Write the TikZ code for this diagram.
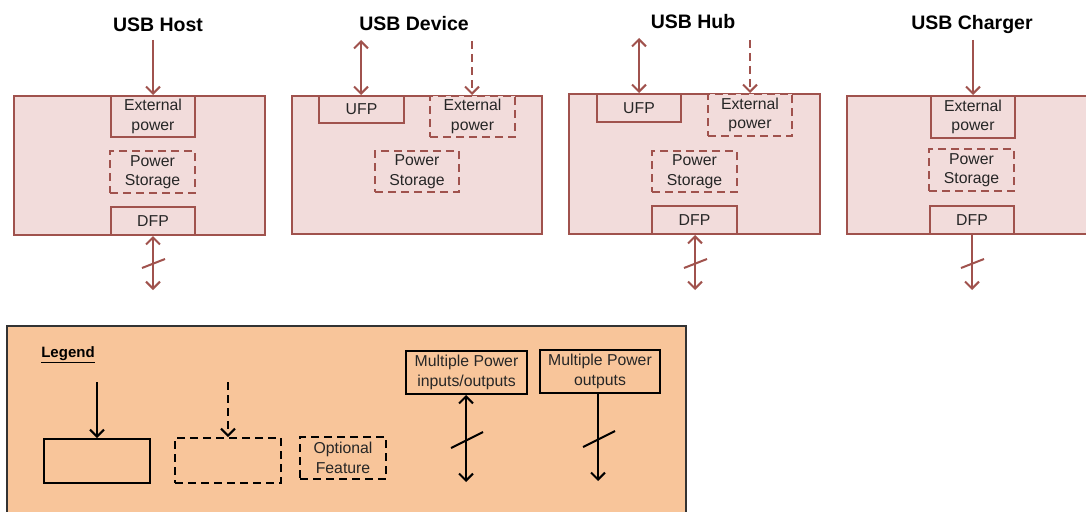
\documentclass[tikz,border=0pt]{standalone}
\usepackage{fontspec}
\setmainfont{Liberation Sans}
\usetikzlibrary{arrows.meta}
\definecolor{usbline}{HTML}{A0524D}
\definecolor{usbfill}{HTML}{F2DCDB}
\definecolor{legfill}{HTML}{F8C59A}
\definecolor{legline}{HTML}{333333}
\tikzset{
  >={Straight Barb[length=7pt,width=14pt]},
  panel/.style={draw=usbline, fill=usbfill, line width=2pt, inner sep=0pt},
  part/.style={draw=usbline, fill=usbfill, line width=2pt, inner sep=0pt, align=center,
    font=\fontsize{15.8}{19.5}\selectfont, text=black!85},
  optpart/.style={part, dash pattern=on 8pt off 5pt},
  title/.style={font=\fontsize{19.5}{22}\selectfont\bfseries},
  link/.style={draw=usbline, line width=2pt, ->},
  optlink/.style={link, dash pattern=on 8pt off 5pt},
  slash/.style={draw=usbline, line width=2pt},
  legbox/.style={draw=black, line width=2pt, inner sep=0pt, align=center,
    font=\fontsize{15.8}{19.5}\selectfont, text=black!85},
  legdash/.style={legbox, dash pattern=on 8pt off 5pt},
  leglink/.style={draw=black, line width=2pt, ->},
  legslash/.style={draw=black, line width=2pt},
}
\begin{document}
\begin{tikzpicture}[x=1pt,y=-1pt]
\useasboundingbox (0,0) rectangle (1086,511);

% ---------- USB Host ----------
\node[title] (thost) at (158,25) {USB Host};
\node[panel, minimum width=251pt, minimum height=139pt] (host) at (139.5,165.5) {};
\node[part, minimum width=84pt, minimum height=41pt] (hext) at (153,116.5) {External\\power};
\node[optpart, minimum width=85pt, minimum height=42pt] (hsto) at (152.5,172) {Power\\Storage};
\node[part, minimum width=84pt, minimum height=28pt] (hdfp) at (153,221) {DFP};
\coordinate (hin) at (153,40);
\coordinate (hmid) at (153,263.5);
\coordinate (hout) at (153,290);
\draw[link] (hin) -- (hext.north);
\draw[link] (hmid) -- (hdfp.south);
\draw[link] (hmid) -- (hout);
\draw[slash] (142,268) -- (165,259);

% ---------- USB Device ----------
\node[title] (tdev) at (414,24) {USB Device};
\node[panel, minimum width=250pt, minimum height=138pt] (dev) at (417,165) {};
\node[part, minimum width=85pt, minimum height=27pt] (dufp) at (361.5,109.5) {UFP};
\node[optpart, minimum width=85pt, minimum height=41pt] (dext) at (472.5,116.5) {External\\power};
\node[optpart, minimum width=84pt, minimum height=41pt] (dsto) at (417,171.5) {Power\\Storage};
\coordinate (dmid) at (361,68);
\coordinate (dup) at (361,40);
\coordinate (din) at (472,41);
\draw[link] (dmid) -- (dufp.north -| dmid);
\draw[link] (dmid) -- (dup);
\draw[optlink] (din) -- (dext.north -| din);

% ---------- USB Hub ----------
\node[title] (thub) at (693,22) {USB Hub};
\node[panel, minimum width=251pt, minimum height=140pt] (hub) at (694.5,164) {};
\node[part, minimum width=84pt, minimum height=28pt] (uufp) at (639,108) {UFP};
\node[optpart, minimum width=84pt, minimum height=42pt] (uext) at (750,115) {External\\power};
\node[optpart, minimum width=85pt, minimum height=41pt] (usto) at (694.5,171.5) {Power\\Storage};
\node[part, minimum width=85pt, minimum height=28pt] (udfp) at (694.5,220) {DFP};
\coordinate (umidup) at (639,66);
\coordinate (uup) at (639,38);
\coordinate (uin) at (750,40);
\coordinate (umid) at (695,263.5);
\coordinate (uout) at (695,290);
\draw[link] (umidup) -- (uufp.north);
\draw[link] (umidup) -- (uup);
\draw[optlink] (uin) -- (uext.north);
\draw[link] (umid) -- (udfp.south -| umid);
\draw[link] (umid) -- (uout);
\draw[slash] (684,268) -- (707,259);

% ---------- USB Charger ----------
\node[title] (tchg) at (972,25) {USB Charger};
\node[panel, minimum width=250pt, minimum height=138pt] (chg) at (972,165) {};
\node[part, minimum width=84pt, minimum height=42pt] (cext) at (973,117) {External\\power};
\node[optpart, minimum width=85pt, minimum height=42pt] (csto) at (971.5,170) {Power\\Storage};
\node[part, minimum width=84pt, minimum height=28pt] (cdfp) at (972,220) {DFP};
\coordinate (cin) at (973,40);
\coordinate (cout) at (972,290);
\draw[link] (cin) -- (cext.north);
\draw[link] (cdfp.south) -- (cout);
\draw[slash] (961,268) -- (984,259);

% ---------- Legend ----------
\node[draw=legline, fill=legfill, line width=2pt, minimum width=679pt, minimum height=195pt, inner sep=0pt] (legend) at (346.5,423.5) {};
\node[font=\fontsize{15}{18}\selectfont\bfseries, inner sep=0pt] (legtitle) at (68,355) {\underline{Legend}};
\node[legbox, minimum width=106pt, minimum height=44pt] (lsolid) at (97,461) {};
\coordinate (lsin) at (97,382);
\draw[leglink] (lsin) -- (lsolid.north);
\node[legdash, minimum width=106pt, minimum height=45pt] (ldash) at (228,460.5) {};
\coordinate (ldin) at (228,382);
\draw[leglink, dash pattern=on 8pt off 5pt] (ldin) -- (ldash.north);
\node[legdash, minimum width=86pt, minimum height=42pt] (lopt) at (343,458) {Optional\\Feature};
\node[legbox, minimum width=121pt, minimum height=43pt] (lmio) at (466.5,372.5) {Multiple Power\\inputs/outputs};
\coordinate (lmiomid) at (466,440);
\coordinate (lmioout) at (466,482);
\draw[leglink] (lmiomid) -- (lmio.south -| lmiomid);
\draw[leglink] (lmiomid) -- (lmioout);
\draw[legslash] (451,448) -- (483,432);
\node[legbox, minimum width=120pt, minimum height=43pt] (lmo) at (600,371.5) {Multiple Power\\outputs};
\coordinate (lmoout) at (598,481);
\draw[leglink] (lmo.south -| lmoout) -- (lmoout);
\draw[legslash] (583,447) -- (615,431);
\end{tikzpicture}
\end{document}
